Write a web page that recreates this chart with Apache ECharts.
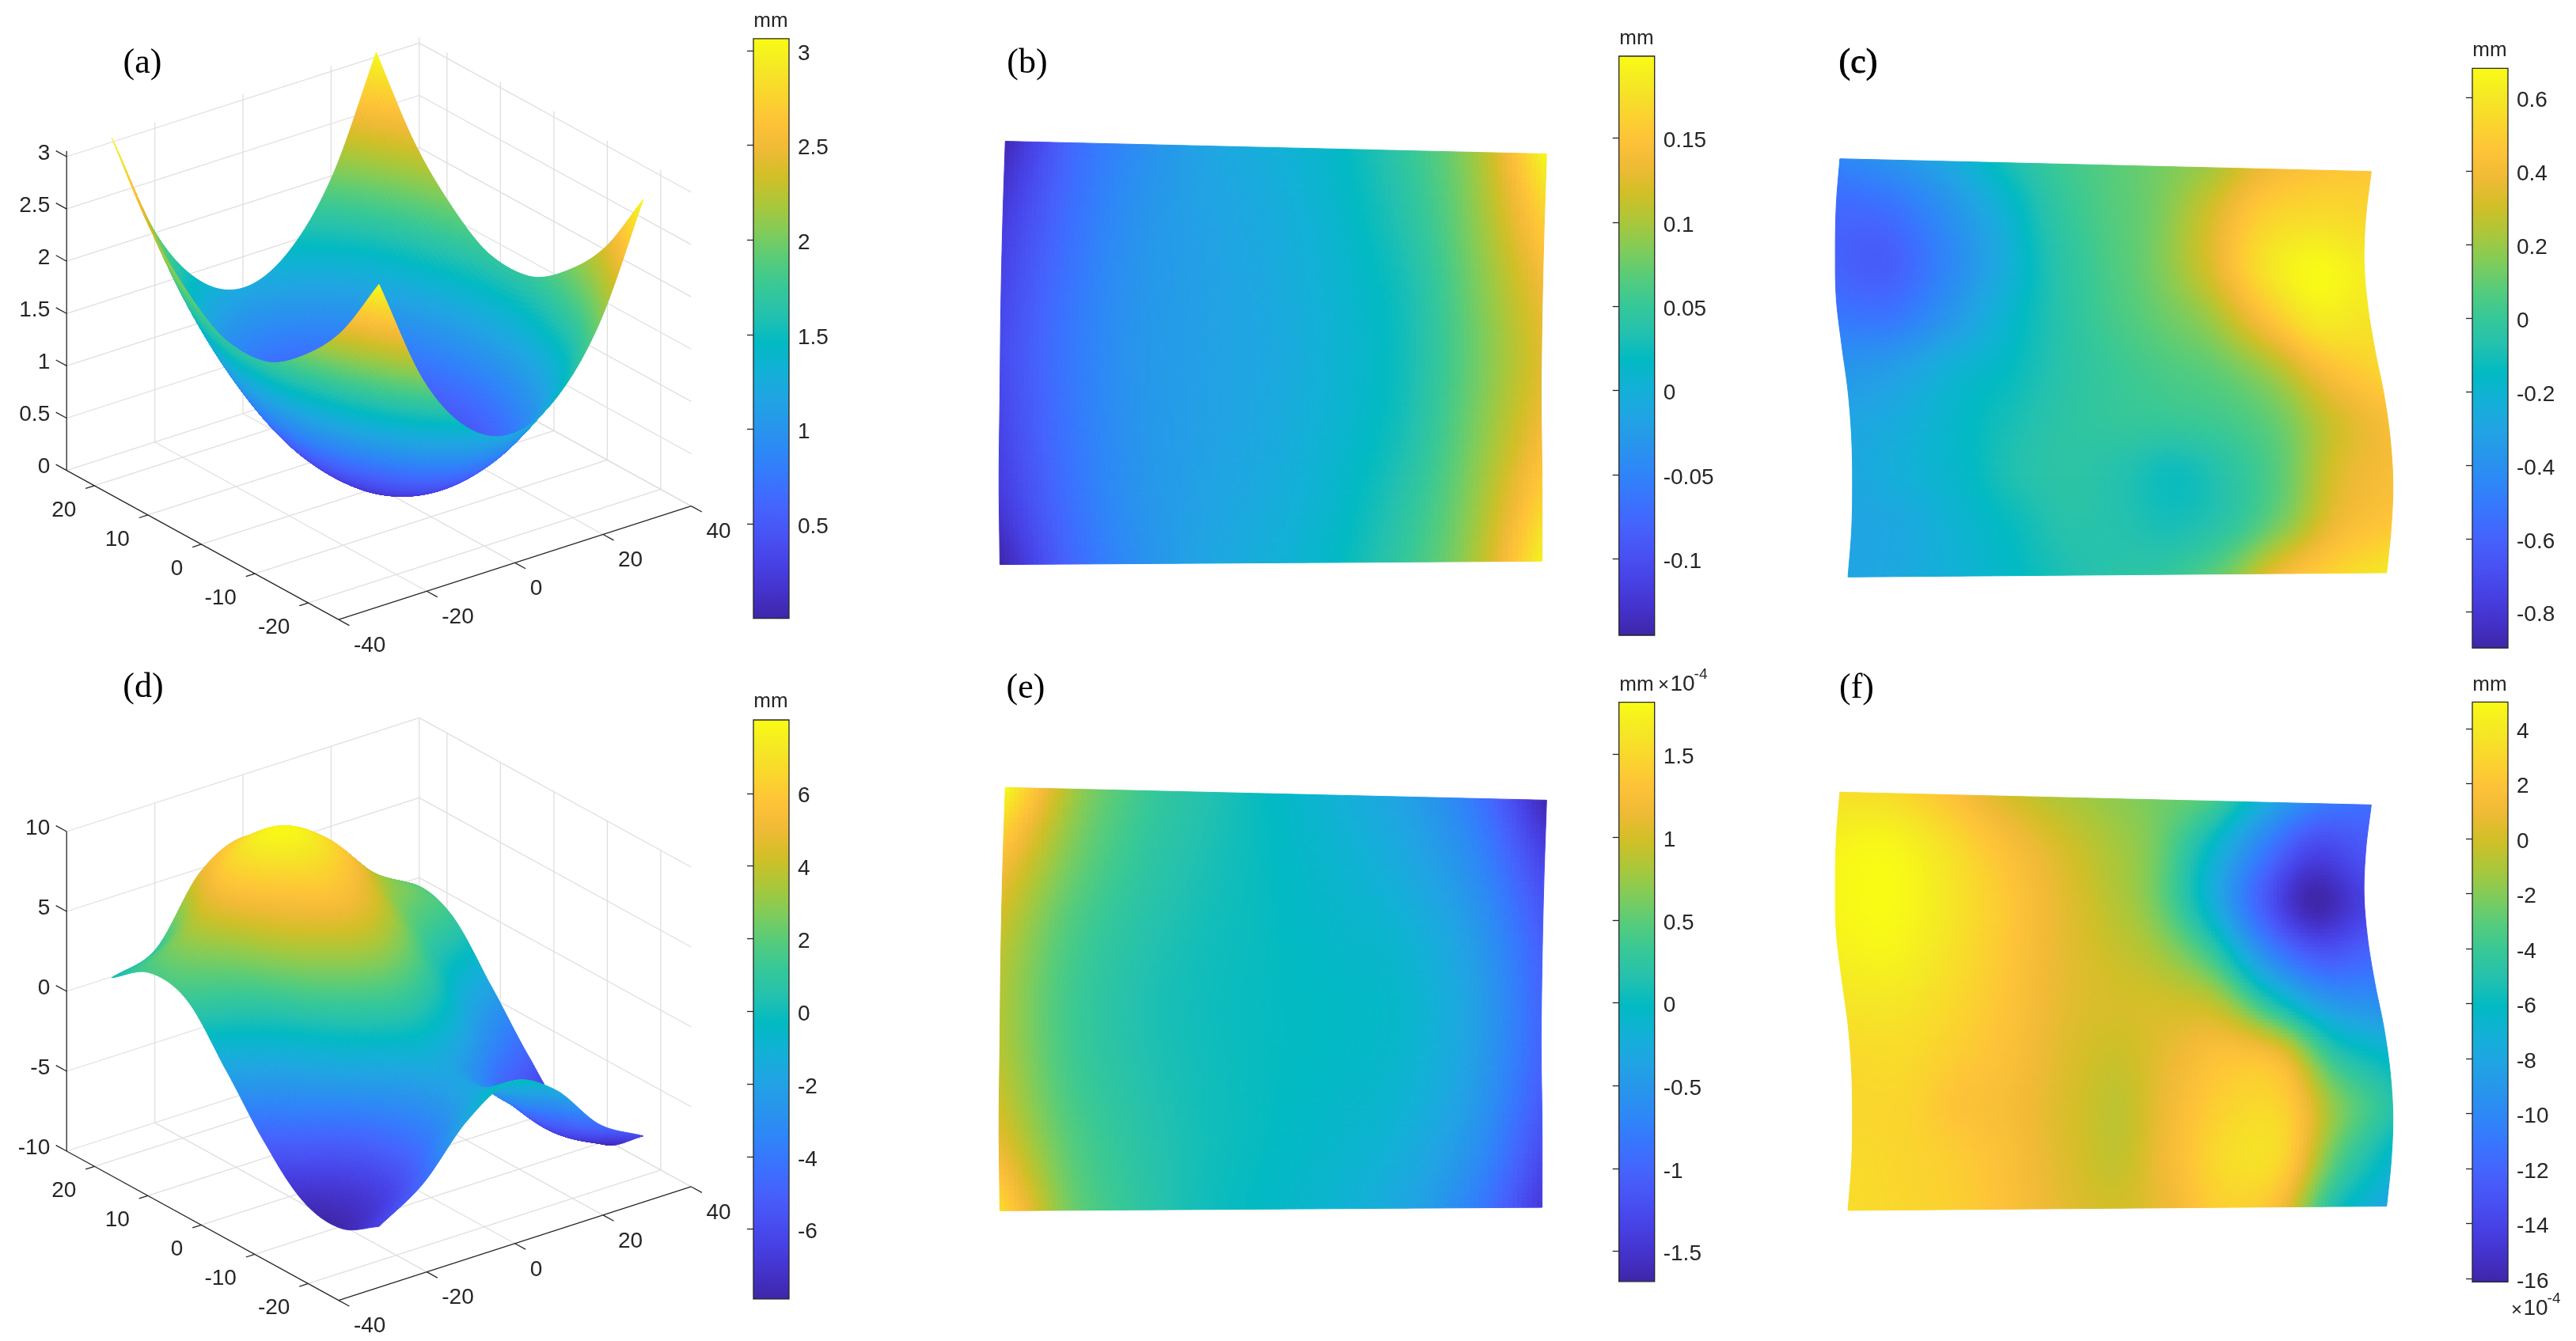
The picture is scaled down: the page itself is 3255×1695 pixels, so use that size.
<!DOCTYPE html>
<html>
<head>
<meta charset="utf-8">
<title>Surface panels</title>
<style>
    html, body { margin: 0; padding: 0; background: #fff; }
    #chart { width: 3255px; height: 1695px; }
</style>
<script src="https://cdn.jsdelivr.net/npm/echarts@6/dist/echarts.min.js"></script>
</head>
<body>
<div id="chart"></div>
<script>
/* ===== Values ===== */

// 3D panels: x columns, y rows
const xs3d = [-30, -20, -10, 0, 10, 20, 30];
const ys3d = [25, 18, 11, 4, -4, -11, -18, -25];

const surfaceA = [
    [3.05, 2.00, 1.41, 1.21, 1.41, 2.00, 3.05],
    [2.40, 1.42, 0.84, 0.65, 0.84, 1.42, 2.40],
    [1.98, 1.03, 0.46, 0.27, 0.46, 1.03, 1.98],
    [1.72, 0.81, 0.26, 0.08, 0.26, 0.81, 1.72],
    [1.72, 0.81, 0.26, 0.08, 0.26, 0.81, 1.72],
    [1.98, 1.03, 0.46, 0.27, 0.46, 1.03, 1.98],
    [2.40, 1.42, 0.84, 0.65, 0.84, 1.42, 2.40],
    [3.05, 2.00, 1.41, 1.21, 1.41, 2.00, 3.05]
];

const surfaceD = [
    [0.0, 0.9, 4.8, 6.15, 4.8, 0.7, 0.0],
    [1.6, 3.5, 6.5, 7.9, 6.5, 3.5, 1.8],
    [1.2, 2.3, 5.0, 6.4, 5.0, 2.3, 1.2],
    [-1.7, 0.0, 2.8, 4.2, 2.8, 0.0, -1.7],
    [-5.2, -3.0, -0.3, 1.0, -0.3, -3.0, -5.2],
    [-7.45, -6.0, -3.2, -1.5, -3.2, -6.0, -7.7],
    [-7.8, -6.4, -3.7, -1.7, -3.7, -6.4, -7.9],
    [-6.4, -4.6, -1.55, 0.0, -1.4, -4.45, -6.07]
];

// Top-view panels: rows from top to bottom, columns from left to right
const fieldB = [
    [-0.14, -0.075, -0.04, -0.015, 0.0, 0.018, 0.05, 0.10, 0.195],
    [-0.12, -0.07, -0.035, -0.018, -0.005, 0.012, 0.04, 0.09, 0.16],
    [-0.11, -0.065, -0.033, -0.02, -0.008, 0.008, 0.03, 0.08, 0.135],
    [-0.105, -0.063, -0.032, -0.02, -0.01, 0.006, 0.027, 0.075, 0.125],
    [-0.11, -0.065, -0.033, -0.02, -0.008, 0.008, 0.03, 0.08, 0.135],
    [-0.12, -0.07, -0.035, -0.018, -0.005, 0.012, 0.04, 0.09, 0.16],
    [-0.145, -0.08, -0.04, -0.015, 0.0, 0.018, 0.05, 0.10, 0.19]
];

const fieldE = [
    [1.8, 0.8, 0.36, 0.15, -0.03, -0.2, -0.42, -0.85, -1.65],
    [1.25, 0.62, 0.28, 0.11, -0.01, -0.13, -0.3, -0.65, -1.3],
    [0.95, 0.45, 0.2, 0.07, 0.0, -0.07, -0.17, -0.48, -1.08],
    [0.85, 0.38, 0.15, 0.05, 0.0, -0.03, -0.1, -0.4, -1.0],
    [0.9, 0.4, 0.17, 0.06, 0.0, -0.04, -0.13, -0.43, -1.03],
    [1.1, 0.5, 0.22, 0.07, -0.01, -0.09, -0.22, -0.55, -1.2],
    [1.55, 0.62, 0.26, 0.06, -0.04, -0.15, -0.34, -0.75, -1.45]
];

const fieldC = [
    [-0.45, -0.38, -0.28, -0.12, 0.0, 0.07, 0.13, 0.22, 0.38, 0.45, 0.47],
    [-0.58, -0.55, -0.42, -0.25, -0.06, 0.05, 0.13, 0.3, 0.5, 0.56, 0.54],
    [-0.6, -0.62, -0.47, -0.29, -0.09, 0.03, 0.13, 0.3, 0.55, 0.67, 0.62],
    [-0.52, -0.52, -0.39, -0.22, -0.08, 0.02, 0.1, 0.2, 0.42, 0.6, 0.58],
    [-0.38, -0.33, -0.22, -0.15, -0.06, 0.0, 0.05, 0.1, 0.22, 0.42, 0.52],
    [-0.3, -0.25, -0.17, -0.1, -0.04, -0.01, 0.0, 0.03, 0.12, 0.3, 0.42],
    [-0.28, -0.23, -0.17, -0.08, -0.04, -0.07, -0.12, -0.04, 0.1, 0.33, 0.42],
    [-0.3, -0.27, -0.2, -0.13, -0.06, -0.07, -0.1, -0.03, 0.15, 0.38, 0.47],
    [-0.3, -0.27, -0.22, -0.16, -0.09, -0.05, -0.01, 0.12, 0.38, 0.52, 0.6]
];

const fieldF = [
    [3.4, 3.2, 2.0, 0.3, -0.8, -1.6, -2.4, -3.6, -7.5, -10.5, -11.5],
    [4.5, 4.7, 3.6, 2.0, 0.5, -0.8, -2.3, -6.0, -10.5, -14.0, -13.0],
    [4.7, 4.97, 4.0, 2.6, 1.0, -0.4, -2.2, -6.5, -12.0, -16.0, -14.2],
    [4.4, 4.6, 3.7, 2.4, 0.9, -0.1, -1.2, -4.0, -9.5, -12.7, -12.0],
    [3.8, 3.8, 3.1, 2.0, 0.7, 0.1, 0.0, -0.8, -5.0, -8.5, -9.5],
    [3.2, 3.2, 2.5, 1.6, 0.4, -0.2, 0.8, 1.8, 0.9, -4.5, -6.5],
    [3.0, 2.9, 1.9, 1.3, 0.2, -0.5, 1.3, 2.8, 2.6, -2.0, -5.0],
    [3.2, 2.9, 2.4, 1.5, 0.3, -0.4, 1.5, 3.3, 2.9, -3.0, -6.5],
    [3.3, 3.0, 2.6, 1.7, 0.6, 0.0, 1.0, 2.7, 1.5, -5.0, -8.0]
];

// Deformed plate outlines in mm, sampled evenly from top to bottom
const plateLeftFlat = [-29.8, -30.1, -30.3, -30.4, -30.5, -30.4];
const plateRightFlat = [30.2, 29.9, 29.7, 29.6, 29.7, 29.7];
const plateTopFlat = [24.9, 23.4];
const plateBottomFlat = [-25.1, -24.7];

const plateLeftWavy = [-29.4, -29.8, -29.9, -29.8, -29.2, -28.5, -28.1, -28.0, -28.1, -28.5];
const plateRightWavy = [29.5, 28.9, 28.7, 29.1, 29.9, 30.9, 31.6, 31.9, 31.7, 31.2];
const plateTopWavy = [24.7, 23.2];
const plateBottomWavy = [-24.7, -24.2];

// Axis ticks
const xTicks3d = [-40, -20, 0, 20, 40];
const yTicks3d = [-20, -10, 0, 10, 20];
const zTicksA = [0, 0.5, 1, 1.5, 2, 2.5, 3];
const zTicksD = [-10, -5, 0, 5, 10];

const barTicksA = [0.5, 1, 1.5, 2, 2.5, 3];
const barTicksB = [-0.1, -0.05, 0, 0.05, 0.1, 0.15];
const barTicksC = [-0.8, -0.6, -0.4, -0.2, 0, 0.2, 0.4, 0.6];
const barTicksD = [-6, -4, -2, 0, 2, 4, 6];
const barTicksE = [-1.5, -1, -0.5, 0, 0.5, 1, 1.5];
const barTicksF = [-16, -14, -12, -10, -8, -6, -4, -2, 0, 2, 4];

// parula, evenly spaced
const colormap = [
    [62, 38, 168], [68, 50, 203], [71, 65, 229], [72, 82, 244], [69, 99, 253], [56, 117, 254],
    [46, 135, 247], [39, 150, 235], [32, 165, 227], [18, 177, 214], [2, 186, 195], [36, 193, 174],
    [55, 200, 151], [87, 204, 122], [129, 204, 89], [171, 199, 57], [209, 191, 39], [240, 186, 54],
    [254, 195, 56], [250, 214, 45], [245, 233, 36], [249, 251, 21]
];

const TEXT_COLOR = '#262626';
const GRID_COLOR = '#dfdfdf';
const SANS = '"Liberation Sans", Arial, sans-serif';
const SERIF = '"Liberation Serif", "Times New Roman", serif';

/* ===== Helpers ===== */

function colorAt(value, min, max) {
    const t = Math.max(0, Math.min(1, (value - min) / (max - min))) * (colormap.length - 1);
    const i = Math.min(colormap.length - 2, Math.floor(t));
    const f = t - i;
    const a = colormap[i];
    const b = colormap[i + 1];
    return 'rgb(' + [0, 1, 2].map(k => Math.round(a[k] + (b[k] - a[k]) * f)).join(',') + ')';
}

function catmull(p0, p1, p2, p3, t) {
    return 0.5 * (2 * p1 + (p2 - p0) * t + (2 * p0 - 5 * p1 + 4 * p2 - p3) * t * t
        + (3 * p1 - p0 - 3 * p2 + p3) * t * t * t);
}

function lineAt(arr, i) {
    if (i < 0) return 2 * arr[0] - arr[1];
    if (i >= arr.length) return 2 * arr[arr.length - 1] - arr[arr.length - 2];
    return arr[i];
}

// Smooth shading between the read values, like MATLAB's "shading interp"
function edgeAt(arr, pos) {
    const i = Math.min(arr.length - 2, Math.floor(pos));
    const t = pos - i;
    return catmull(lineAt(arr, i - 1), lineAt(arr, i), lineAt(arr, i + 1), lineAt(arr, i + 2), t);
}

function tableAt(table, r, c) {
    const i = Math.min(table.length - 2, Math.floor(r));
    const t = r - i;
    const row = k => {
        if (k < 0) return 2 * edgeAt(table[0], c) - edgeAt(table[1], c);
        if (k >= table.length) {
            return 2 * edgeAt(table[table.length - 1], c) - edgeAt(table[table.length - 2], c);
        }
        return edgeAt(table[k], c);
    };
    return catmull(row(i - 1), row(i), row(i + 1), row(i + 2), t);
}

function lerp(a, b, t) {
    return a + (b - a) * t;
}

const grids = [];
const xAxes = [];
const yAxes = [];
const series = [];

function addGrid(rect, xRange, yRange) {
    const index = grids.length;
    grids.push({ left: rect[0], top: rect[1], width: rect[2], height: rect[3] });
    xAxes.push({ gridIndex: index, type: 'value', show: false, min: xRange[0], max: xRange[1] });
    yAxes.push({ gridIndex: index, type: 'value', show: false, min: yRange[0], max: yRange[1] });
    return index;
}

function quadItem(points, fill) {
    return {
        type: 'polygon',
        shape: { points: points },
        style: { fill: fill, stroke: fill, lineWidth: 1 },
        silent: true
    };
}

function tickText(x, y, text, align) {
    return {
        type: 'text',
        x: x,
        y: y,
        style: {
            text: text,
            fontFamily: SANS,
            fontSize: 28,
            fill: TEXT_COLOR,
            align: align,
            verticalAlign: 'middle'
        }
    };
}

/* ===== 3D panels ===== */

function surface3d(p) {
    const index = addGrid([0, p.top, 1100, p.height], [0, 1100], [p.top + p.height, p.top]);

    const project = (x, y, z) => [
        84.2 + (x + 40) * 5.569 + (25.2 - y) * 6.752,
        p.originY - (z - p.zMin) * p.zScale - (x + 40) * 1.795 + (25.2 - y) * 3.705
    ];

    // Walls, floor, axis lines, ticks and labels
    series.push({
        type: 'custom',
        xAxisIndex: index,
        yAxisIndex: index,
        silent: true,
        z: 1,
        data: [[0]],
        renderItem(params, api) {
            const children = [];
            const line = (a, b, color) => {
                const p1 = api.coord(a);
                const p2 = api.coord(b);
                children.push({
                    type: 'line',
                    shape: { x1: p1[0], y1: p1[1], x2: p2[0], y2: p2[1] },
                    style: { stroke: color, lineWidth: 1.3 }
                });
            };
            const label = (pos, dx, dy, text, align) => {
                const c = api.coord(pos);
                children.push(tickText(c[0] + dx, c[1] + dy, text, align));
            };
            const yFar = 25.2;
            const yNear = -25.7;

            xTicks3d.forEach(x => {
                if (x !== -40) {
                    line(project(x, yNear, p.zMin), project(x, yFar, p.zMin), GRID_COLOR);
                    line(project(x, yFar, p.zMin), project(x, yFar, p.zMax), GRID_COLOR);
                }
            });
            yTicks3d.forEach(y => {
                line(project(-40, y, p.zMin), project(40, y, p.zMin), GRID_COLOR);
                line(project(40, y, p.zMin), project(40, y, p.zMax), GRID_COLOR);
            });
            p.zTicks.forEach(z => {
                line(project(-40, yFar, z), project(40, yFar, z), GRID_COLOR);
                line(project(40, yFar, z), project(40, yNear, z), GRID_COLOR);
            });

            line(project(-40, yFar, p.zMin), project(-40, yFar, p.zMax), TEXT_COLOR);
            line(project(-40, yFar, p.zMin), project(-40, yNear, p.zMin), TEXT_COLOR);
            line(project(-40, yNear, p.zMin), project(40, yNear, p.zMin), TEXT_COLOR);

            p.zTicks.forEach(z => {
                line(project(-40, yFar, z), project(-40, yFar + 2, z), TEXT_COLOR);
                label(project(-40, yFar, z), -21, -4, String(z), 'right');
            });
            yTicks3d.forEach(y => {
                line(project(-40, y, p.zMin), project(-42, y, p.zMin), TEXT_COLOR);
                label(project(-40, y, p.zMin), -23, 31, String(y), 'right');
            });
            xTicks3d.forEach(x => {
                line(project(x, yNear, p.zMin), project(x, yNear - 2, p.zMin), TEXT_COLOR);
                label(project(x, yNear, p.zMin), 19, 33, String(x), 'left');
            });
            return { type: 'group', children: children };
        }
    });

    // Cells go from the far corner to the near one so nearer cells paint over
    const cells = [];
    for (let c = xs3d.length - 2; c >= 0; c--) {
        for (let r = 0; r < ys3d.length - 1; r++) {
            cells.push([r, c]);
        }
    }
    const SUB = 22;
    series.push({
        type: 'custom',
        xAxisIndex: index,
        yAxisIndex: index,
        silent: true,
        z: 2,
        progressive: 0,
        data: cells,
        renderItem(params, api) {
            const r0 = api.value(0);
            const c0 = api.value(1);
            const node = (r, c) => {
                const i = Math.min(ys3d.length - 2, Math.floor(r));
                const j = Math.min(xs3d.length - 2, Math.floor(c));
                const y = lerp(ys3d[i], ys3d[i + 1], r - i);
                const x = lerp(xs3d[j], xs3d[j + 1], c - j);
                return api.coord(project(x, y, tableAt(p.table, r, c)));
            };
            const children = [];
            for (let b = SUB - 1; b >= 0; b--) {
                for (let a = 0; a < SUB; a++) {
                    const r1 = r0 + a / SUB;
                    const r2 = r0 + (a + 1) / SUB;
                    const c1 = c0 + b / SUB;
                    const c2 = c0 + (b + 1) / SUB;
                    const value = tableAt(p.table, (r1 + r2) / 2, (c1 + c2) / 2);
                    children.push(quadItem(
                        [node(r1, c1), node(r1, c2), node(r2, c2), node(r2, c1)],
                        colorAt(value, p.min, p.max)
                    ));
                }
            }
            return { type: 'group', children: children };
        }
    });
}

/* ===== Top-view panels ===== */

function plate(p) {
    const index = addGrid(p.rect, [-35, 35], [-28, 28]);
    const rows = p.table.length;
    const cols = p.table[0].length;
    const cells = [];
    for (let r = 0; r < rows - 1; r++) {
        for (let c = 0; c < cols - 1; c++) {
            cells.push([r, c]);
        }
    }
    const SUB = 14;
    series.push({
        type: 'custom',
        xAxisIndex: index,
        yAxisIndex: index,
        silent: true,
        progressive: 0,
        data: cells,
        renderItem(params, api) {
            const r0 = api.value(0);
            const c0 = api.value(1);
            const node = (r, c) => {
                const v = r / (rows - 1);
                const u = c / (cols - 1);
                const x = lerp(
                    edgeAt(p.left, v * (p.left.length - 1)),
                    edgeAt(p.right, v * (p.right.length - 1)),
                    u
                );
                const y = lerp(lerp(p.topEdge[0], p.topEdge[1], u), lerp(p.bottomEdge[0], p.bottomEdge[1], u), v);
                return api.coord([x, y]);
            };
            const children = [];
            for (let a = 0; a < SUB; a++) {
                for (let b = 0; b < SUB; b++) {
                    const r1 = r0 + a / SUB;
                    const r2 = r0 + (a + 1) / SUB;
                    const c1 = c0 + b / SUB;
                    const c2 = c0 + (b + 1) / SUB;
                    const value = tableAt(p.table, (r1 + r2) / 2, (c1 + c2) / 2);
                    children.push(quadItem(
                        [node(r1, c1), node(r1, c2), node(r2, c2), node(r2, c1)],
                        colorAt(value, p.min, p.max)
                    ));
                }
            }
            return { type: 'group', children: children };
        }
    });
}

/* ===== Colour bars ===== */

function colorBar(p) {
    const index = addGrid([p.left, p.top, 45, p.height], [0, 1], [p.min, p.max]);
    yAxes[index] = {
        gridIndex: index,
        type: 'value',
        position: 'right',
        min: p.min,
        max: p.max,
        splitLine: { show: false },
        axisLine: { show: false },
        axisLabel: { show: false },
        axisTick: {
            show: true,
            inside: true,
            length: 8,
            customValues: p.ticks,
            lineStyle: { color: TEXT_COLOR, width: 1.3 }
        },
        z: 5
    };
    const stops = colormap.map((c, i) => ({
        offset: 1 - i / (colormap.length - 1),
        color: 'rgb(' + c.join(',') + ')'
    })).reverse();
    series.push({
        type: 'custom',
        xAxisIndex: index,
        yAxisIndex: index,
        silent: true,
        z: 1,
        data: [[0, p.min, 1, p.max]],
        renderItem(params, api) {
            const a = api.coord([api.value(0), api.value(3)]);
            const b = api.coord([api.value(2), api.value(1)]);
            const children = [{
                type: 'rect',
                shape: { x: a[0], y: a[1], width: b[0] - a[0], height: b[1] - a[1] },
                style: {
                    fill: new echarts.graphic.LinearGradient(0, 0, 0, 1, stops),
                    stroke: TEXT_COLOR,
                    lineWidth: 1.3
                }
            }];
            p.ticks.forEach(t => {
                const c = api.coord([1, t]);
                children.push(tickText(c[0] + 11, c[1] + 4, String(t), 'left'));
            });
            return { type: 'group', children: children };
        }
    });
}

/* ===== Panels ===== */

surface3d({ top: 0, height: 850, originY: 594.6, zMin: 0, zMax: 3.054, zScale: 132.2, zTicks: zTicksA, table: surfaceA, min: 0, max: 3.06 });
surface3d({ top: 850, height: 845, originY: 1455, zMin: -10, zMax: 10, zScale: 20.2, zTicks: zTicksD, table: surfaceD, min: -7.92, max: 8.02 });

plate({ rect: [1211, 145.4, 798, 599.2], table: fieldB, left: plateLeftFlat, right: plateRightFlat, topEdge: plateTopFlat, bottomEdge: plateBottomFlat, min: -0.1455, max: 0.1987 });
plate({ rect: [1211, 962.2, 798, 599.2], table: fieldE, left: plateLeftFlat, right: plateRightFlat, topEdge: plateTopFlat, bottomEdge: plateBottomFlat, min: -1.683, max: 1.814 });
plate({ rect: [2261, 165.4, 798, 599.2], table: fieldC, left: plateLeftWavy, right: plateRightWavy, topEdge: plateTopWavy, bottomEdge: plateBottomWavy, min: -0.8975, max: 0.68 });
plate({ rect: [2261, 966, 798, 599.2], table: fieldF, left: plateLeftWavy, right: plateRightWavy, topEdge: plateTopWavy, bottomEdge: plateBottomWavy, min: -16.13, max: 4.97 });

colorBar({ left: 952, top: 48.8, height: 732.8, min: 0, max: 3.064, ticks: barTicksA });
colorBar({ left: 952, top: 910, height: 731.9, min: -7.92, max: 8.02, ticks: barTicksD });
colorBar({ left: 2045.7, top: 71, height: 732, min: -0.1455, max: 0.1987, ticks: barTicksB });
colorBar({ left: 2045.7, top: 887.7, height: 732.1, min: -1.683, max: 1.814, ticks: barTicksE });
colorBar({ left: 3124, top: 86.4, height: 732.6, min: -0.8975, max: 0.68, ticks: barTicksC });
colorBar({ left: 3124, top: 887.4, height: 733, min: -16.13, max: 4.97, ticks: barTicksF });

function pageText(text, x, y, fontSize, family, heavy) {
    return {
        type: 'text',
        x: x,
        y: y,
        silent: true,
        style: {
            text: text,
            fontFamily: family,
            fontSize: fontSize,
            fill: family === SERIF ? '#000' : TEXT_COLOR,
            stroke: heavy ? '#000' : null,
            lineWidth: heavy ? 0.9 : 0,
            align: 'center',
            verticalAlign: 'middle'
        }
    };
}

const pageTexts = [
    pageText('(a)', 180, 80, 44, SERIF),
    pageText('(b)', 1298, 80, 44, SERIF),
    pageText('(c)', 2348, 80, 44, SERIF, true),
    pageText('(d)', 181, 869, 44, SERIF),
    pageText('(e)', 1296, 870, 44, SERIF),
    pageText('(f)', 2346, 870, 44, SERIF),
    pageText('mm', 974, 27, 26, SANS),
    pageText('mm', 974, 887, 26, SANS),
    pageText('mm', 2068, 49, 26, SANS),
    pageText('mm', 2068, 866, 26, SANS),
    pageText('mm', 3146, 64, 26, SANS),
    pageText('mm', 3146, 866, 26, SANS),
    pageText('\u00d7', 2102, 866, 24, SANS),
    pageText('10', 2126, 865, 28, SANS),
    pageText('-4', 2149, 853, 19, SANS),
    pageText('\u00d7', 3180, 1656, 24, SANS),
    pageText('10', 3204, 1654, 28, SANS),
    pageText('-4', 3227, 1642, 19, SANS)
];

const chart = echarts.init(document.getElementById('chart'));
chart.setOption({
    animation: false,
    backgroundColor: '#fff',
    grid: grids,
    xAxis: xAxes,
    yAxis: yAxes,
    series: series,
    graphic: pageTexts
});
window.addEventListener('resize', () => chart.resize());
</script>
</body>
</html>
